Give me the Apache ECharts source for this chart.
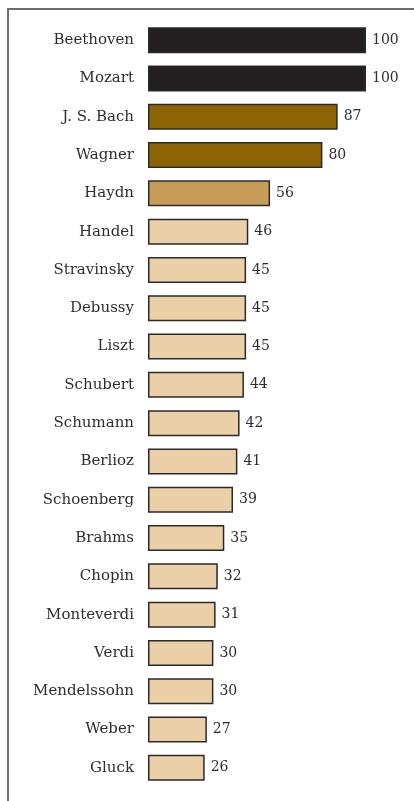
<!DOCTYPE html>
<html>
<head>
<meta charset="utf-8">
<style>
  html, body { margin: 0; padding: 0; background: #ffffff; }
  #chart { width: 414px; height: 801px; }
</style>
<script src="https://cdn.jsdelivr.net/npm/echarts@6/dist/echarts.min.js"></script>
</head>
<body>
<div id="chart"></div>
<script>
// Composers, ranked top to bottom
const composers = [
  'Beethoven', 'Mozart', 'J. S. Bach', 'Wagner', 'Haydn', 'Handel',
  'Stravinsky', 'Debussy', 'Liszt', 'Schubert', 'Schumann', 'Berlioz',
  'Schoenberg', 'Brahms', 'Chopin', 'Monteverdi', 'Verdi', 'Mendelssohn',
  'Weber', 'Gluck'
];
const scores = [
  100, 100, 87, 80, 56, 46, 45, 45, 45, 44, 42, 41, 39, 35, 32, 31, 30, 30, 27, 26
];
// Colour tier for each composer (0 = top, 1 = second, 2 = third, 3 = rest)
const tiers = [0, 0, 1, 1, 2, 3, 3, 3, 3, 3, 3, 3, 3, 3, 3, 3, 3, 3, 3, 3];
const tierColors = ['#231f20', '#8c6404', '#c69c58', '#ebcfa6'];

const chart = echarts.init(document.getElementById('chart'), null, { renderer: 'canvas' });

const serif = '"DejaVu Serif", "Liberation Serif", serif';

chart.setOption({
  animation: false,
  backgroundColor: '#ffffff',
  graphic: [
    {
      type: 'polyline',
      shape: { points: [[8, 801], [8, 9], [414, 9]] },
      style: { stroke: '#6e6e6e', lineWidth: 2, fill: null },
      silent: true
    }
  ],
  grid: { left: 148, top: 21, width: 218, height: 766, containLabel: false },
  xAxis: {
    type: 'value',
    min: 0,
    max: 100,
    show: false
  },
  yAxis: {
    type: 'category',
    inverse: true,
    data: composers,
    axisLine: { show: false },
    axisTick: { show: false },
    splitLine: { show: false },
    axisLabel: {
      margin: 14,
      fontFamily: serif,
      fontSize: 15,
      color: '#2e2e2e'
    }
  },
  series: [
    {
      type: 'bar',
      barWidth: 26,
      data: scores.map((v, i) => ({
        value: v,
        itemStyle: { color: tierColors[tiers[i]] }
      })),
      itemStyle: { borderColor: '#2a2a2a', borderWidth: 1.5 },
      label: {
        show: true,
        position: 'right',
        distance: 6,
        fontFamily: serif,
        fontSize: 14,
        color: '#2e2e2e'
      }
    }
  ]
});
</script>
</body>
</html>
